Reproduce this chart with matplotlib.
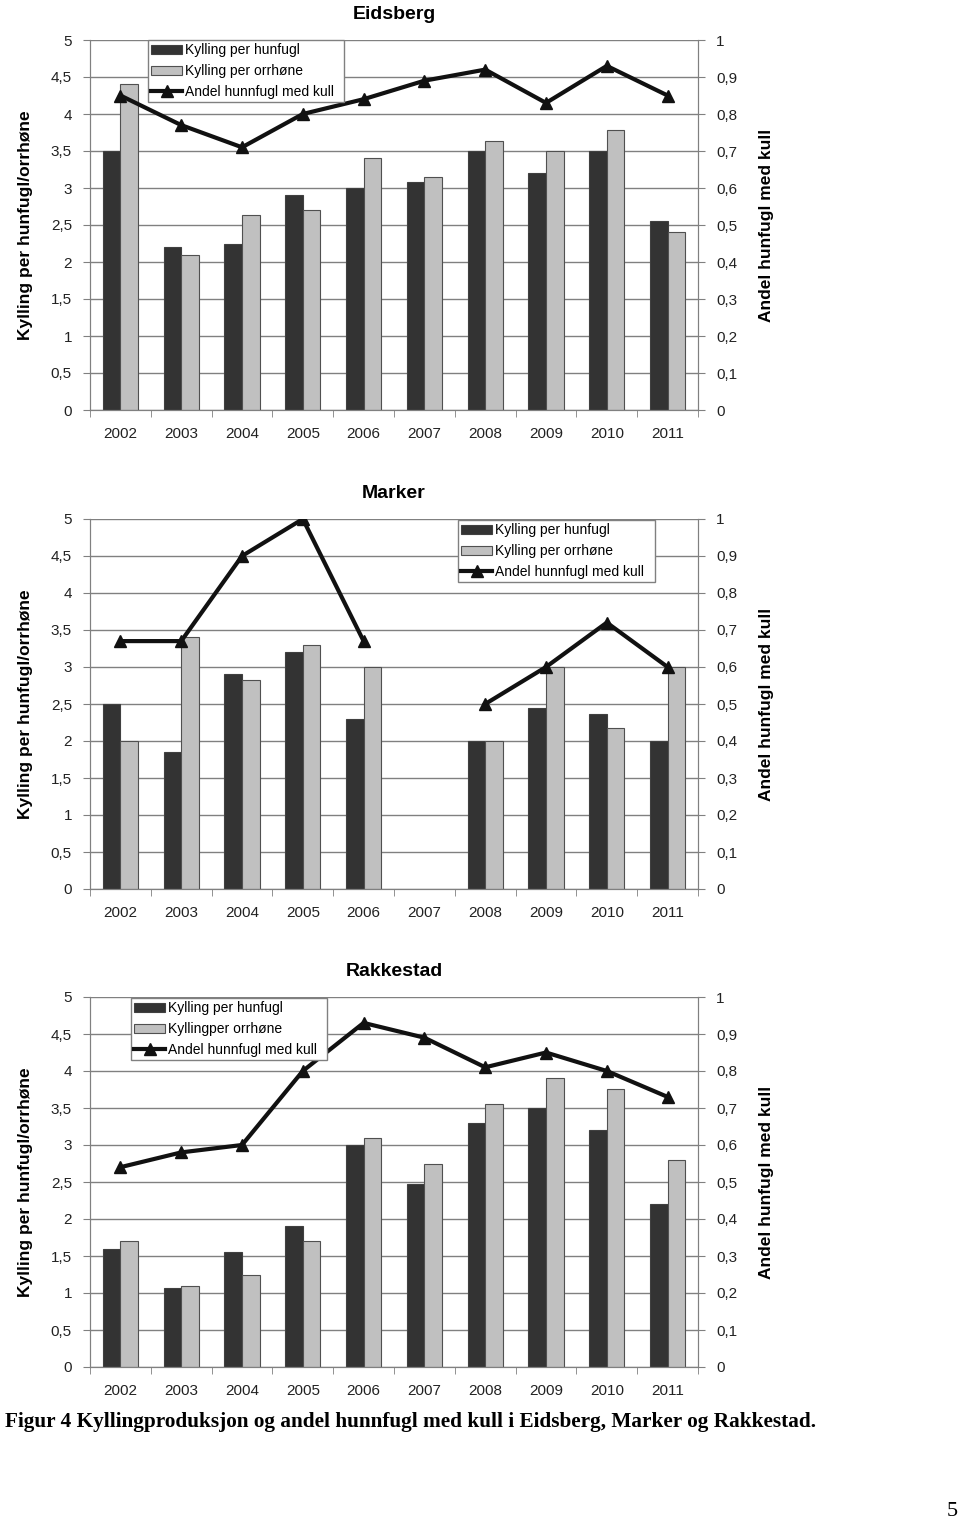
import numpy as np
import matplotlib.pyplot as plt

years = ["2002", "2003", "2004", "2005", "2006", "2007", "2008", "2009", "2010", "2011"]

# Eidsberg
eid_hun = [3.5, 2.2, 2.25, 2.9, 3.0, 3.08, 3.5, 3.2, 3.5, 2.55]
eid_orr = [4.4, 2.1, 2.63, 2.7, 3.4, 3.15, 3.63, 3.5, 3.78, 2.4]
eid_andel = [0.85, 0.77, 0.71, 0.80, 0.84, 0.89, 0.92, 0.83, 0.93, 0.85]

# Marker (2007 mangler)
mar_hun = [2.5, 1.85, 2.9, 3.2, 2.3, np.nan, 2.0, 2.45, 2.36, 2.0]
mar_orr = [2.0, 3.4, 2.83, 3.3, 3.0, np.nan, 2.0, 3.0, 2.17, 3.0]
mar_andel = [0.67, 0.67, 0.90, 1.0, 0.67, np.nan, 0.5, 0.6, 0.72, 0.6]

# Rakkestad
rak_hun = [1.6, 1.07, 1.55, 1.9, 3.0, 2.47, 3.3, 3.5, 3.2, 2.2]
rak_orr = [1.7, 1.1, 1.25, 1.7, 3.1, 2.75, 3.55, 3.9, 3.76, 2.8]
rak_andel = [0.54, 0.58, 0.60, 0.80, 0.93, 0.89, 0.81, 0.85, 0.80, 0.73]

panels = [
    ("Eidsberg", eid_hun, eid_orr, eid_andel, "Kylling per orrhøne", 410, (148, 40, 196, 61)),
    ("Marker", mar_hun, mar_orr, mar_andel, "Kylling per orrhøne", 889, (458, 520, 197, 61)),
    ("Rakkestad", rak_hun, rak_orr, rak_andel, "Kyllingper orrhøne", 1367, (131, 998, 196, 62)),
]

W, H = 960, 1523
plt.rcParams["font.family"] = ["Liberation Sans", "DejaVu Sans"]
fig = plt.figure(figsize=(W / 100, H / 100), dpi=100)

grey = "#808080"
x = np.arange(len(years))
bw = 0.29

for title, hun, orr, andel, orr_label, ybot, leg in panels:
    ax = fig.add_axes([90 / W, (H - ybot) / H, 608 / W, 370 / H])
    b1 = ax.bar(x - bw / 2, hun, width=bw, color="#333333", edgecolor="#404040", linewidth=0.8, zorder=2)
    b2 = ax.bar(x + bw / 2, orr, width=bw, color="#c0c0c0", edgecolor="#505050", linewidth=0.8, zorder=2)
    ax.set_xlim(-0.5, len(years) - 0.5)
    ax.set_ylim(0, 5)
    yt = np.arange(0, 5.01, 0.5)
    ax.set_yticks(yt)
    ax.set_yticklabels([("%g" % v).replace(".", ",") for v in yt], fontsize=11, color="#222222")
    ax.yaxis.grid(True, color=grey, linewidth=1, zorder=0)
    ax.set_axisbelow(True)
    ax.set_xticks(x)
    ax.set_xticklabels(years, fontsize=11, color="#222222")
    ax.set_xticks(np.arange(-0.5, len(years)), minor=True)
    ax.tick_params(axis="x", which="major", length=0, pad=12)
    ax.tick_params(axis="x", which="minor", length=5, color=grey, direction="out")
    ax.tick_params(axis="y", length=5, color=grey, direction="out", pad=8)
    ax.spines["top"].set_visible(False)
    for s in ["left", "right", "bottom"]:
        ax.spines[s].set_color(grey)
    ax.set_ylabel("Kylling per hunfugl/orrhøne", fontsize=12.5, fontweight="bold", labelpad=13)
    ax.set_title(title, fontsize=14, fontweight="bold", pad=15)

    ax2 = ax.twinx()
    l1, = ax2.plot(x, andel, color="#111111", linewidth=3, marker="^", markersize=9, zorder=3)
    ax2.set_ylim(0, 1)
    rt = np.arange(0, 1.001, 0.1)
    ax2.set_yticks(rt)
    ax2.set_yticklabels([("%g" % round(v, 1)).replace(".", ",") for v in rt], fontsize=11, color="#222222")
    ax2.tick_params(axis="y", length=5, color=grey, direction="out", pad=8)
    ax2.spines["top"].set_visible(False)
    for s in ["left", "right", "bottom"]:
        ax2.spines[s].set_color(grey)
    ax2.set_ylabel("Andel hunfugl med kull", fontsize=12.5, fontweight="bold", labelpad=16)

    lx, ly, lw, lh = leg
    lg = ax2.legend([b1, b2, l1], ["Kylling per hunfugl", orr_label, "Andel hunnfugl med kull"],
                    loc="upper left", bbox_to_anchor=(lx / W, 1 - (ly + lh) / H, lw / W, lh / H),
                    bbox_transform=fig.transFigure, mode="expand", fontsize=10, frameon=True,
                    fancybox=False, edgecolor=grey, framealpha=1, borderpad=0.25, labelspacing=0.48,
                    handlelength=2.2, handleheight=0.6, handletextpad=0.2, borderaxespad=0)
    lg.get_frame().set_linewidth(1)
    lg.set_zorder(5)

fig.text(5 / W, 1 - 1422 / H, "Figur 4 Kyllingproduksjon og andel hunnfugl med kull i Eidsberg, Marker og Rakkestad.",
         fontsize=15.3, fontweight="bold", family="Liberation Serif", va="center", ha="left")
fig.text(952 / W, 1 - 1512 / H, "5", fontsize=16, family="Liberation Serif", va="center", ha="center")

fig.savefig("out.png", dpi=100, facecolor="white")
